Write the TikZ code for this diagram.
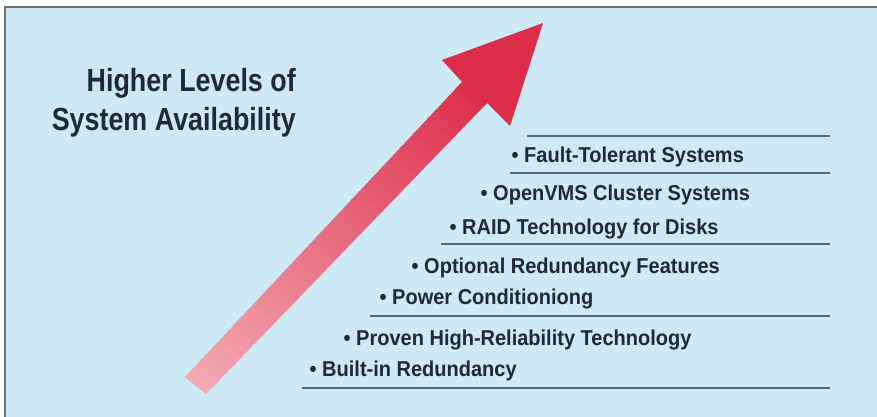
\documentclass[tikz,border=0pt]{standalone}
\usepackage{fontspec}
\setmainfont{Liberation Sans}
\newfontfamily\condfont{Liberation Sans}[FakeStretch=0.84]
\newfontfamily\itemfont{Liberation Sans}[FakeStretch=0.93]
\usetikzlibrary{calc}
\definecolor{bgblue}{RGB}{205,233,244}
\definecolor{framegray}{RGB}{110,115,122}
\definecolor{rulegray}{RGB}{88,100,110}
\definecolor{textdark}{RGB}{30,42,54}
\definecolor{arrowlo}{RGB}{243,168,178}
\definecolor{arrowhi}{RGB}{221,50,78}
\definecolor{headred}{RGB}{220,46,75}
\tikzset{
  titletext/.style={anchor=base east, inner sep=0pt, text=textdark,
    font=\condfont\bfseries\fontsize{32}{38}\selectfont},
  itemtext/.style={anchor=base west, inner sep=0pt, text=textdark,
    font=\itemfont\bfseries\fontsize{21.5}{26}\selectfont},
  levelrule/.style={draw=rulegray, line width=1.8pt},
}
\begin{document}
\begin{tikzpicture}[x=1pt,y=-1pt]
\useasboundingbox (0,0) rectangle (877,417);
\fill[white] (0,0) rectangle (877,417);
\fill[bgblue] (5,7) rectangle (877,417);
\draw[framegray, line width=1.5pt] (5,417) -- (5,7) -- (877,7);

% arrow shaft with gradient
\coordinate (BL) at (185,377);
\coordinate (BR) at (206,394);
\coordinate (TL) at (462,82);
\coordinate (TR) at (487,103);
\foreach \i in {0,...,39}{
  \pgfmathsetmacro{\a}{\i/40}
  \pgfmathsetmacro{\b}{(\i+1.2)/40}
  \pgfmathsetmacro{\p}{100*\i/39}
  \fill[arrowhi!\p!arrowlo] ($(BL)!\a!(TL)$) -- ($(BR)!\a!(TR)$) -- ($(BR)!\b!(TR)$) -- ($(BL)!\b!(TL)$) -- cycle;
}
% arrow head
\coordinate (NL) at (462,82);
\coordinate (BAL) at (442,60);
\coordinate (TIP) at (543,23);
\coordinate (BAR) at (510,126);
\coordinate (NR) at (487,103);
\fill[headred] ($(NL)+(-6,6)$) -- (NL) -- (BAL) -- (TIP) -- (BAR) -- (NR) -- ($(NR)+(-6,6)$) -- cycle;

% title
\node[titletext] (title1) at (296,92) {Higher Levels of};
\node[titletext] (title2) at (296,130) {System Availability};

% rules
\coordinate (r1a) at (527,136); \coordinate (r1b) at (830,136);
\coordinate (r2a) at (510,173); \coordinate (r2b) at (830,173);
\coordinate (r3a) at (441,244); \coordinate (r3b) at (830,244);
\coordinate (r4a) at (370,316); \coordinate (r4b) at (830,316);
\coordinate (r5a) at (302,388); \coordinate (r5b) at (830,388);
\draw[levelrule] (r1a) -- (r1b);
\draw[levelrule] (r2a) -- (r2b);
\draw[levelrule] (r3a) -- (r3b);
\draw[levelrule] (r4a) -- (r4b);
\draw[levelrule] (r5a) -- (r5b);

% items
\node[itemtext] (i1) at (511.5,162) {\textbullet\ Fault-Tolerant Systems};
\node[itemtext] (i2) at (480.5,200) {\textbullet\ OpenVMS Cluster Systems};
\node[itemtext] (i3) at (449.5,234) {\textbullet\ RAID Technology for Disks};
\node[itemtext] (i4) at (411.5,273) {\textbullet\ Optional Redundancy Features};
\node[itemtext] (i5) at (379.5,304) {\textbullet\ Power Conditioniong};
\node[itemtext] (i6) at (343.5,345) {\textbullet\ Proven High-Reliability Technology};
\node[itemtext] (i7) at (309.5,376) {\textbullet\ Built-in Redundancy};
\end{tikzpicture}
\end{document}
